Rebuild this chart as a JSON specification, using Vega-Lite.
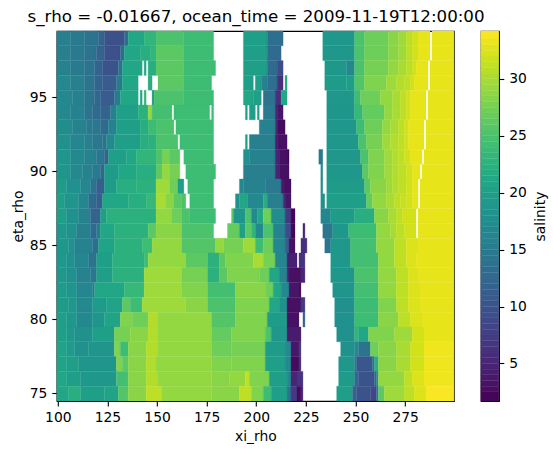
{"$schema":"https://vega.github.io/schema/vega-lite/v6.json","background":"white","padding":{"left":9.8,"top":8,"right":0,"bottom":0},"spacing":25,"title":{"text":"s_rho = -0.01667, ocean_time = 2009-11-19T12:00:00","anchor":"start","frame":"bounds","dx":17,"fontSize":16.67,"fontWeight":"normal","color":"black","font":"DejaVu Sans","offset":5},"config":{"font":"DejaVu Sans","view":{"stroke":"black","strokeWidth":1.1},"axis":{"grid":false,"domain":true,"domainColor":"black","domainWidth":1.1,"zindex":1,"tickColor":"black","tickWidth":1.1,"tickSize":5,"labelColor":"black","titleColor":"black","labelFontSize":13.9,"titleFontSize":13.9,"titleFontWeight":"normal","labelPadding":5,"labelFont":"DejaVu Sans","titleFont":"DejaVu Sans"}},"hconcat":[{"width":397,"height":370,"data":{"values":[
{"x":99.5,"x2":106.5,"eta":99,"s":15.5},{"x":106.5,"x2":113.5,"eta":99,"s":15},{"x":113.5,"x2":120.5,"eta":99,"s":14},{"x":120.5,"x2":123.5,"eta":99,"s":12},{"x":123.5,"x2":133.5,"eta":99,"s":9.5},{"x":133.5,"x2":135.5,"eta":99,"s":13},{"x":135.5,"x2":143.5,"eta":99,"s":21},{"x":143.5,"x2":149.5,"eta":99,"s":23},{"x":149.5,"x2":163.5,"eta":99,"s":25},{"x":163.5,"x2":178.5,"eta":99,"s":24},{"x":193.5,"x2":205.5,"eta":99,"s":20},{"x":205.5,"x2":213.5,"eta":99,"s":13.5},{"x":233.5,"x2":249.5,"eta":99,"s":19},{"x":249.5,"x2":254.5,"eta":99,"s":25},{"x":254.5,"x2":266.5,"eta":99,"s":27},{"x":266.5,"x2":271.5,"eta":99,"s":28.5},{"x":271.5,"x2":275.5,"eta":99,"s":29.5},{"x":275.5,"x2":278.5,"eta":99,"s":31},{"x":278.5,"x2":281.5,"eta":99,"s":32},{"x":281.5,"x2":287.5,"eta":99,"s":33},{"x":288.5,"x2":299.5,"eta":99,"s":33},
{"x":99.5,"x2":106.5,"eta":98,"s":15.5},{"x":106.5,"x2":113.5,"eta":98,"s":15},{"x":113.5,"x2":119.5,"eta":98,"s":14},{"x":119.5,"x2":123.5,"eta":98,"s":12},{"x":123.5,"x2":131.5,"eta":98,"s":9.5},{"x":131.5,"x2":133.5,"eta":98,"s":13},{"x":133.5,"x2":141.5,"eta":98,"s":21},{"x":141.5,"x2":146.5,"eta":98,"s":22},{"x":146.5,"x2":149.5,"eta":98,"s":23},{"x":149.5,"x2":163.5,"eta":98,"s":26},{"x":163.5,"x2":178.5,"eta":98,"s":24},{"x":193.5,"x2":205.5,"eta":98,"s":20},{"x":205.5,"x2":212.5,"eta":98,"s":13},{"x":233.5,"x2":249.5,"eta":98,"s":19},{"x":249.5,"x2":254.5,"eta":98,"s":25},{"x":254.5,"x2":266.5,"eta":98,"s":27},{"x":266.5,"x2":271.5,"eta":98,"s":28.5},{"x":271.5,"x2":275.5,"eta":98,"s":29.5},{"x":275.5,"x2":278.5,"eta":98,"s":31},{"x":278.5,"x2":281.5,"eta":98,"s":32},{"x":281.5,"x2":287.5,"eta":98,"s":33},{"x":288.5,"x2":299.5,"eta":98,"s":33},
{"x":99.5,"x2":106.5,"eta":97,"s":16},{"x":106.5,"x2":113.5,"eta":97,"s":15},{"x":113.5,"x2":118.5,"eta":97,"s":14},{"x":118.5,"x2":122.5,"eta":97,"s":12},{"x":122.5,"x2":130.5,"eta":97,"s":10},{"x":130.5,"x2":132.5,"eta":97,"s":14},{"x":132.5,"x2":142.5,"eta":97,"s":21},{"x":143.5,"x2":144.5,"eta":97,"s":21},{"x":145.5,"x2":149.5,"eta":97,"s":22},{"x":149.5,"x2":163.5,"eta":97,"s":26},{"x":163.5,"x2":179.5,"eta":97,"s":24},{"x":193.5,"x2":205.5,"eta":97,"s":20},{"x":205.5,"x2":210.5,"eta":97,"s":13},{"x":210.5,"x2":213.5,"eta":97,"s":9},{"x":234.5,"x2":245.5,"eta":97,"s":19},{"x":245.5,"x2":249.5,"eta":97,"s":17},{"x":249.5,"x2":254.5,"eta":97,"s":25},{"x":254.5,"x2":266.5,"eta":97,"s":27.5},{"x":266.5,"x2":271.5,"eta":97,"s":29},{"x":271.5,"x2":275.5,"eta":97,"s":30},{"x":275.5,"x2":278.5,"eta":97,"s":31},{"x":278.5,"x2":280.5,"eta":97,"s":32},{"x":280.5,"x2":286.5,"eta":97,"s":33},{"x":287.5,"x2":299.5,"eta":97,"s":33},
{"x":99.5,"x2":106.5,"eta":96,"s":17},{"x":106.5,"x2":113.5,"eta":96,"s":15.5},{"x":113.5,"x2":118.5,"eta":96,"s":14},{"x":118.5,"x2":122.5,"eta":96,"s":12},{"x":122.5,"x2":129.5,"eta":96,"s":11},{"x":129.5,"x2":132.5,"eta":96,"s":15},{"x":132.5,"x2":140.5,"eta":96,"s":21},{"x":145.5,"x2":147.5,"eta":96,"s":22},{"x":150.5,"x2":163.5,"eta":96,"s":26},{"x":163.5,"x2":177.5,"eta":96,"s":24},{"x":193.5,"x2":198.5,"eta":96,"s":20},{"x":199.5,"x2":202.5,"eta":96,"s":20},{"x":202.5,"x2":205.5,"eta":96,"s":16},{"x":205.5,"x2":210.5,"eta":96,"s":13.5},{"x":210.5,"x2":213.5,"eta":96,"s":6},{"x":214.5,"x2":215.5,"eta":96,"s":21},{"x":234.5,"x2":245.5,"eta":96,"s":19.5},{"x":245.5,"x2":249.5,"eta":96,"s":20},{"x":249.5,"x2":254.5,"eta":96,"s":25.5},{"x":254.5,"x2":265.5,"eta":96,"s":28},{"x":265.5,"x2":270.5,"eta":96,"s":29.5},{"x":270.5,"x2":274.5,"eta":96,"s":30.5},{"x":274.5,"x2":277.5,"eta":96,"s":31},{"x":277.5,"x2":279.5,"eta":96,"s":32},{"x":279.5,"x2":286.5,"eta":96,"s":33},{"x":287.5,"x2":299.5,"eta":96,"s":33},
{"x":99.5,"x2":107.5,"eta":95,"s":17},{"x":107.5,"x2":113.5,"eta":95,"s":15.5},{"x":113.5,"x2":118.5,"eta":95,"s":14},{"x":118.5,"x2":121.5,"eta":95,"s":12.5},{"x":121.5,"x2":128.5,"eta":95,"s":11},{"x":128.5,"x2":131.5,"eta":95,"s":15},{"x":131.5,"x2":140.5,"eta":95,"s":21},{"x":141.5,"x2":142.5,"eta":95,"s":21},{"x":143.5,"x2":144.5,"eta":95,"s":23},{"x":147.5,"x2":148.5,"eta":95,"s":19},{"x":148.5,"x2":163.5,"eta":95,"s":25},{"x":163.5,"x2":178.5,"eta":95,"s":24},{"x":193.5,"x2":198.5,"eta":95,"s":21},{"x":198.5,"x2":202.5,"eta":95,"s":20},{"x":203.5,"x2":209.5,"eta":95,"s":14},{"x":209.5,"x2":212.5,"eta":95,"s":6},{"x":212.5,"x2":215.5,"eta":95,"s":21},{"x":235.5,"x2":249.5,"eta":95,"s":19},{"x":249.5,"x2":252.5,"eta":95,"s":24},{"x":252.5,"x2":262.5,"eta":95,"s":27},{"x":262.5,"x2":268.5,"eta":95,"s":29},{"x":268.5,"x2":272.5,"eta":95,"s":30},{"x":272.5,"x2":275.5,"eta":95,"s":31},{"x":275.5,"x2":277.5,"eta":95,"s":32},{"x":277.5,"x2":285.5,"eta":95,"s":33},{"x":286.5,"x2":299.5,"eta":95,"s":33},
{"x":99.5,"x2":106.5,"eta":94,"s":17},{"x":106.5,"x2":113.5,"eta":94,"s":16},{"x":113.5,"x2":117.5,"eta":94,"s":14},{"x":117.5,"x2":121.5,"eta":94,"s":13},{"x":121.5,"x2":126.5,"eta":94,"s":12},{"x":126.5,"x2":129.5,"eta":94,"s":15.5},{"x":129.5,"x2":140.5,"eta":94,"s":20},{"x":140.5,"x2":145.5,"eta":94,"s":22.5},{"x":145.5,"x2":147.5,"eta":94,"s":29},{"x":147.5,"x2":157.5,"eta":94,"s":24.5},{"x":158.5,"x2":176.5,"eta":94,"s":24},{"x":177.5,"x2":178.5,"eta":94,"s":24},{"x":194.5,"x2":195.5,"eta":94,"s":20},{"x":196.5,"x2":199.5,"eta":94,"s":20},{"x":200.5,"x2":201.5,"eta":94,"s":20},{"x":203.5,"x2":209.5,"eta":94,"s":15},{"x":209.5,"x2":210.5,"eta":94,"s":5},{"x":210.5,"x2":213.5,"eta":94,"s":3.5},{"x":235.5,"x2":249.5,"eta":94,"s":18.5},{"x":249.5,"x2":253.5,"eta":94,"s":23.5},{"x":253.5,"x2":264.5,"eta":94,"s":26.5},{"x":264.5,"x2":268.5,"eta":94,"s":29},{"x":268.5,"x2":272.5,"eta":94,"s":30},{"x":272.5,"x2":275.5,"eta":94,"s":31},{"x":275.5,"x2":277.5,"eta":94,"s":32},{"x":277.5,"x2":285.5,"eta":94,"s":33},{"x":286.5,"x2":299.5,"eta":94,"s":33},
{"x":99.5,"x2":107.5,"eta":93,"s":17.5},{"x":107.5,"x2":114.5,"eta":93,"s":16},{"x":114.5,"x2":117.5,"eta":93,"s":15},{"x":117.5,"x2":121.5,"eta":93,"s":14.5},{"x":121.5,"x2":125.5,"eta":93,"s":13},{"x":125.5,"x2":129.5,"eta":93,"s":16},{"x":129.5,"x2":141.5,"eta":93,"s":20},{"x":141.5,"x2":145.5,"eta":93,"s":22},{"x":145.5,"x2":149.5,"eta":93,"s":24},{"x":149.5,"x2":158.5,"eta":93,"s":25},{"x":159.5,"x2":178.5,"eta":93,"s":24},{"x":201.5,"x2":209.5,"eta":93,"s":16},{"x":209.5,"x2":210.5,"eta":93,"s":6},{"x":210.5,"x2":214.5,"eta":93,"s":2.5},{"x":235.5,"x2":250.5,"eta":93,"s":19},{"x":250.5,"x2":254.5,"eta":93,"s":24},{"x":254.5,"x2":263.5,"eta":93,"s":27},{"x":263.5,"x2":267.5,"eta":93,"s":29},{"x":267.5,"x2":271.5,"eta":93,"s":30},{"x":271.5,"x2":274.5,"eta":93,"s":31},{"x":274.5,"x2":276.5,"eta":93,"s":32},{"x":276.5,"x2":284.5,"eta":93,"s":33},{"x":285.5,"x2":299.5,"eta":93,"s":33},
{"x":99.5,"x2":106.5,"eta":92,"s":18},{"x":106.5,"x2":113.5,"eta":92,"s":16.5},{"x":113.5,"x2":117.5,"eta":92,"s":15.5},{"x":117.5,"x2":122.5,"eta":92,"s":14.5},{"x":122.5,"x2":124.5,"eta":92,"s":14},{"x":124.5,"x2":128.5,"eta":92,"s":17},{"x":128.5,"x2":141.5,"eta":92,"s":20},{"x":141.5,"x2":145.5,"eta":92,"s":22},{"x":145.5,"x2":149.5,"eta":92,"s":22.5},{"x":149.5,"x2":160.5,"eta":92,"s":25},{"x":161.5,"x2":178.5,"eta":92,"s":24},{"x":194.5,"x2":195.5,"eta":92,"s":20},{"x":196.5,"x2":209.5,"eta":92,"s":15.5},{"x":209.5,"x2":210.5,"eta":92,"s":4},{"x":210.5,"x2":215.5,"eta":92,"s":3},{"x":235.5,"x2":251.5,"eta":92,"s":19},{"x":251.5,"x2":255.5,"eta":92,"s":25},{"x":255.5,"x2":263.5,"eta":92,"s":27.5},{"x":263.5,"x2":267.5,"eta":92,"s":29.5},{"x":267.5,"x2":271.5,"eta":92,"s":30.5},{"x":271.5,"x2":274.5,"eta":92,"s":31},{"x":274.5,"x2":276.5,"eta":92,"s":32},{"x":276.5,"x2":284.5,"eta":92,"s":33},{"x":285.5,"x2":299.5,"eta":92,"s":33},
{"x":99.5,"x2":106.5,"eta":91,"s":18.5},{"x":106.5,"x2":113.5,"eta":91,"s":17},{"x":113.5,"x2":119.5,"eta":91,"s":16},{"x":119.5,"x2":123.5,"eta":91,"s":14.5},{"x":123.5,"x2":125.5,"eta":91,"s":12},{"x":125.5,"x2":134.5,"eta":91,"s":20},{"x":134.5,"x2":139.5,"eta":91,"s":21},{"x":139.5,"x2":149.5,"eta":91,"s":23},{"x":149.5,"x2":152.5,"eta":91,"s":25},{"x":152.5,"x2":156.5,"eta":91,"s":27.5},{"x":156.5,"x2":161.5,"eta":91,"s":26},{"x":163.5,"x2":178.5,"eta":91,"s":24},{"x":193.5,"x2":196.5,"eta":91,"s":18},{"x":196.5,"x2":209.5,"eta":91,"s":16},{"x":209.5,"x2":211.5,"eta":91,"s":5},{"x":211.5,"x2":215.5,"eta":91,"s":3},{"x":215.5,"x2":216.5,"eta":91,"s":2},{"x":231.5,"x2":233.5,"eta":91,"s":15},{"x":235.5,"x2":252.5,"eta":91,"s":19},{"x":252.5,"x2":256.5,"eta":91,"s":25},{"x":256.5,"x2":264.5,"eta":91,"s":28},{"x":264.5,"x2":268.5,"eta":91,"s":29.5},{"x":268.5,"x2":271.5,"eta":91,"s":30.5},{"x":271.5,"x2":274.5,"eta":91,"s":31},{"x":274.5,"x2":277.5,"eta":91,"s":32},{"x":277.5,"x2":283.5,"eta":91,"s":33},{"x":284.5,"x2":299.5,"eta":91,"s":33},
{"x":99.5,"x2":106.5,"eta":90,"s":18.5},{"x":106.5,"x2":112.5,"eta":90,"s":17},{"x":112.5,"x2":117.5,"eta":90,"s":16},{"x":117.5,"x2":121.5,"eta":90,"s":15},{"x":121.5,"x2":123.5,"eta":90,"s":12.5},{"x":123.5,"x2":130.5,"eta":90,"s":19.5},{"x":130.5,"x2":139.5,"eta":90,"s":21},{"x":139.5,"x2":149.5,"eta":90,"s":22},{"x":149.5,"x2":152.5,"eta":90,"s":26},{"x":152.5,"x2":156.5,"eta":90,"s":29},{"x":156.5,"x2":161.5,"eta":90,"s":27.5},{"x":164.5,"x2":179.5,"eta":90,"s":24},{"x":193.5,"x2":209.5,"eta":90,"s":15.5},{"x":209.5,"x2":211.5,"eta":90,"s":5},{"x":211.5,"x2":216.5,"eta":90,"s":3},{"x":232.5,"x2":233.5,"eta":90,"s":17},{"x":235.5,"x2":253.5,"eta":90,"s":19},{"x":253.5,"x2":256.5,"eta":90,"s":26},{"x":256.5,"x2":264.5,"eta":90,"s":28},{"x":264.5,"x2":268.5,"eta":90,"s":29.5},{"x":268.5,"x2":271.5,"eta":90,"s":30.5},{"x":271.5,"x2":275.5,"eta":90,"s":31},{"x":275.5,"x2":278.5,"eta":90,"s":32},{"x":278.5,"x2":282.5,"eta":90,"s":33},{"x":283.5,"x2":299.5,"eta":90,"s":33},
{"x":99.5,"x2":104.5,"eta":89,"s":19.5},{"x":104.5,"x2":111.5,"eta":89,"s":18},{"x":111.5,"x2":116.5,"eta":89,"s":16.5},{"x":116.5,"x2":119.5,"eta":89,"s":14},{"x":119.5,"x2":123.5,"eta":89,"s":11.5},{"x":123.5,"x2":129.5,"eta":89,"s":19.5},{"x":129.5,"x2":139.5,"eta":89,"s":22},{"x":139.5,"x2":149.5,"eta":89,"s":22.5},{"x":149.5,"x2":156.5,"eta":89,"s":29.5},{"x":156.5,"x2":160.5,"eta":89,"s":27},{"x":160.5,"x2":163.5,"eta":89,"s":20},{"x":165.5,"x2":178.5,"eta":89,"s":24},{"x":191.5,"x2":193.5,"eta":89,"s":17},{"x":193.5,"x2":204.5,"eta":89,"s":16},{"x":204.5,"x2":212.5,"eta":89,"s":15},{"x":212.5,"x2":213.5,"eta":89,"s":4},{"x":213.5,"x2":217.5,"eta":89,"s":3},{"x":232.5,"x2":233.5,"eta":89,"s":17},{"x":235.5,"x2":254.5,"eta":89,"s":19.5},{"x":254.5,"x2":257.5,"eta":89,"s":26},{"x":257.5,"x2":265.5,"eta":89,"s":28.5},{"x":265.5,"x2":268.5,"eta":89,"s":29.5},{"x":268.5,"x2":271.5,"eta":89,"s":30.5},{"x":271.5,"x2":275.5,"eta":89,"s":31},{"x":275.5,"x2":278.5,"eta":89,"s":32},{"x":278.5,"x2":281.5,"eta":89,"s":33},{"x":282.5,"x2":299.5,"eta":89,"s":33},
{"x":99.5,"x2":103.5,"eta":88,"s":20},{"x":103.5,"x2":110.5,"eta":88,"s":18.5},{"x":110.5,"x2":115.5,"eta":88,"s":16.5},{"x":115.5,"x2":119.5,"eta":88,"s":13},{"x":119.5,"x2":122.5,"eta":88,"s":11.5},{"x":122.5,"x2":135.5,"eta":88,"s":21},{"x":135.5,"x2":144.5,"eta":88,"s":22},{"x":144.5,"x2":149.5,"eta":88,"s":23.5},{"x":149.5,"x2":154.5,"eta":88,"s":30},{"x":154.5,"x2":158.5,"eta":88,"s":28.5},{"x":158.5,"x2":162.5,"eta":88,"s":26},{"x":162.5,"x2":164.5,"eta":88,"s":25},{"x":166.5,"x2":178.5,"eta":88,"s":24},{"x":189.5,"x2":191.5,"eta":88,"s":18},{"x":191.5,"x2":195.5,"eta":88,"s":21},{"x":195.5,"x2":203.5,"eta":88,"s":17},{"x":203.5,"x2":205.5,"eta":88,"s":22},{"x":205.5,"x2":213.5,"eta":88,"s":15.5},{"x":213.5,"x2":214.5,"eta":88,"s":6},{"x":214.5,"x2":217.5,"eta":88,"s":3.5},{"x":232.5,"x2":234.5,"eta":88,"s":18},{"x":235.5,"x2":255.5,"eta":88,"s":20},{"x":255.5,"x2":258.5,"eta":88,"s":26.5},{"x":258.5,"x2":265.5,"eta":88,"s":29},{"x":265.5,"x2":269.5,"eta":88,"s":30},{"x":269.5,"x2":272.5,"eta":88,"s":31},{"x":272.5,"x2":275.5,"eta":88,"s":31.5},{"x":275.5,"x2":278.5,"eta":88,"s":32},{"x":278.5,"x2":281.5,"eta":88,"s":33},{"x":282.5,"x2":299.5,"eta":88,"s":33},
{"x":99.5,"x2":104.5,"eta":87,"s":20},{"x":104.5,"x2":110.5,"eta":87,"s":18},{"x":110.5,"x2":116.5,"eta":87,"s":16},{"x":116.5,"x2":121.5,"eta":87,"s":12},{"x":121.5,"x2":124.5,"eta":87,"s":20},{"x":124.5,"x2":149.5,"eta":87,"s":22.5},{"x":149.5,"x2":157.5,"eta":87,"s":29},{"x":157.5,"x2":162.5,"eta":87,"s":27},{"x":162.5,"x2":166.5,"eta":87,"s":25},{"x":166.5,"x2":179.5,"eta":87,"s":24},{"x":187.5,"x2":188.5,"eta":87,"s":26},{"x":188.5,"x2":194.5,"eta":87,"s":18.5},{"x":194.5,"x2":197.5,"eta":87,"s":25},{"x":197.5,"x2":200.5,"eta":87,"s":17},{"x":200.5,"x2":203.5,"eta":87,"s":21},{"x":203.5,"x2":207.5,"eta":87,"s":27},{"x":207.5,"x2":214.5,"eta":87,"s":17.5},{"x":214.5,"x2":217.5,"eta":87,"s":7},{"x":217.5,"x2":219.5,"eta":87,"s":2},{"x":232.5,"x2":237.5,"eta":87,"s":16.5},{"x":237.5,"x2":249.5,"eta":87,"s":19.5},{"x":249.5,"x2":259.5,"eta":87,"s":22},{"x":259.5,"x2":266.5,"eta":87,"s":28.5},{"x":266.5,"x2":270.5,"eta":87,"s":30},{"x":270.5,"x2":273.5,"eta":87,"s":31},{"x":273.5,"x2":280.5,"eta":87,"s":32},{"x":281.5,"x2":299.5,"eta":87,"s":33},
{"x":99.5,"x2":104.5,"eta":86,"s":19},{"x":104.5,"x2":109.5,"eta":86,"s":18},{"x":109.5,"x2":116.5,"eta":86,"s":15.5},{"x":116.5,"x2":119.5,"eta":86,"s":13},{"x":119.5,"x2":121.5,"eta":86,"s":15},{"x":121.5,"x2":128.5,"eta":86,"s":21},{"x":128.5,"x2":145.5,"eta":86,"s":22.5},{"x":145.5,"x2":149.5,"eta":86,"s":26},{"x":149.5,"x2":162.5,"eta":86,"s":28.5},{"x":162.5,"x2":178.5,"eta":86,"s":25},{"x":185.5,"x2":191.5,"eta":86,"s":26.5},{"x":191.5,"x2":194.5,"eta":86,"s":20},{"x":194.5,"x2":197.5,"eta":86,"s":26},{"x":197.5,"x2":199.5,"eta":86,"s":23},{"x":199.5,"x2":203.5,"eta":86,"s":17},{"x":203.5,"x2":208.5,"eta":86,"s":25},{"x":208.5,"x2":214.5,"eta":86,"s":16},{"x":214.5,"x2":217.5,"eta":86,"s":9},{"x":217.5,"x2":219.5,"eta":86,"s":2},{"x":223.5,"x2":224.5,"eta":86,"s":5},{"x":233.5,"x2":238.5,"eta":86,"s":14.5},{"x":238.5,"x2":246.5,"eta":86,"s":19},{"x":246.5,"x2":260.5,"eta":86,"s":24},{"x":260.5,"x2":267.5,"eta":86,"s":29},{"x":267.5,"x2":270.5,"eta":86,"s":30},{"x":270.5,"x2":274.5,"eta":86,"s":31},{"x":274.5,"x2":280.5,"eta":86,"s":32},{"x":281.5,"x2":299.5,"eta":86,"s":33},
{"x":99.5,"x2":105.5,"eta":85,"s":19},{"x":105.5,"x2":108.5,"eta":85,"s":18},{"x":108.5,"x2":117.5,"eta":85,"s":16},{"x":117.5,"x2":120.5,"eta":85,"s":13.5},{"x":120.5,"x2":128.5,"eta":85,"s":20.5},{"x":128.5,"x2":142.5,"eta":85,"s":22.5},{"x":142.5,"x2":147.5,"eta":85,"s":24},{"x":147.5,"x2":162.5,"eta":85,"s":29},{"x":162.5,"x2":179.5,"eta":85,"s":25.5},{"x":179.5,"x2":183.5,"eta":85,"s":29},{"x":183.5,"x2":193.5,"eta":85,"s":27.5},{"x":193.5,"x2":199.5,"eta":85,"s":29.5},{"x":199.5,"x2":203.5,"eta":85,"s":24},{"x":203.5,"x2":208.5,"eta":85,"s":27},{"x":208.5,"x2":214.5,"eta":85,"s":16.5},{"x":214.5,"x2":216.5,"eta":85,"s":11},{"x":216.5,"x2":219.5,"eta":85,"s":3},{"x":222.5,"x2":225.5,"eta":85,"s":6},{"x":234.5,"x2":237.5,"eta":85,"s":14},{"x":237.5,"x2":247.5,"eta":85,"s":19},{"x":247.5,"x2":260.5,"eta":85,"s":24.5},{"x":260.5,"x2":269.5,"eta":85,"s":29},{"x":269.5,"x2":275.5,"eta":85,"s":31},{"x":275.5,"x2":281.5,"eta":85,"s":32.5},{"x":281.5,"x2":299.5,"eta":85,"s":33},
{"x":99.5,"x2":104.5,"eta":84,"s":19},{"x":104.5,"x2":108.5,"eta":84,"s":18},{"x":108.5,"x2":115.5,"eta":84,"s":16.5},{"x":115.5,"x2":119.5,"eta":84,"s":14},{"x":119.5,"x2":127.5,"eta":84,"s":20},{"x":127.5,"x2":143.5,"eta":84,"s":22.5},{"x":143.5,"x2":145.5,"eta":84,"s":24},{"x":145.5,"x2":164.5,"eta":84,"s":29},{"x":164.5,"x2":175.5,"eta":84,"s":26},{"x":175.5,"x2":181.5,"eta":84,"s":22.5},{"x":181.5,"x2":184.5,"eta":84,"s":26},{"x":184.5,"x2":198.5,"eta":84,"s":28},{"x":198.5,"x2":203.5,"eta":84,"s":30},{"x":203.5,"x2":209.5,"eta":84,"s":27.5},{"x":209.5,"x2":215.5,"eta":84,"s":16.5},{"x":215.5,"x2":220.5,"eta":84,"s":4.5},{"x":221.5,"x2":224.5,"eta":84,"s":6.5},{"x":237.5,"x2":247.5,"eta":84,"s":19},{"x":247.5,"x2":261.5,"eta":84,"s":24.5},{"x":261.5,"x2":269.5,"eta":84,"s":29},{"x":269.5,"x2":275.5,"eta":84,"s":31},{"x":275.5,"x2":280.5,"eta":84,"s":32.5},{"x":280.5,"x2":299.5,"eta":84,"s":33},
{"x":99.5,"x2":104.5,"eta":83,"s":19},{"x":104.5,"x2":109.5,"eta":83,"s":18},{"x":109.5,"x2":116.5,"eta":83,"s":16},{"x":116.5,"x2":119.5,"eta":83,"s":14.5},{"x":119.5,"x2":127.5,"eta":83,"s":20},{"x":127.5,"x2":143.5,"eta":83,"s":22.5},{"x":143.5,"x2":162.5,"eta":83,"s":29.5},{"x":162.5,"x2":175.5,"eta":83,"s":27.5},{"x":175.5,"x2":181.5,"eta":83,"s":22.5},{"x":181.5,"x2":185.5,"eta":83,"s":26},{"x":185.5,"x2":201.5,"eta":83,"s":28},{"x":201.5,"x2":206.5,"eta":83,"s":27},{"x":206.5,"x2":211.5,"eta":83,"s":21},{"x":211.5,"x2":215.5,"eta":83,"s":16},{"x":215.5,"x2":216.5,"eta":83,"s":5},{"x":216.5,"x2":222.5,"eta":83,"s":3},{"x":222.5,"x2":224.5,"eta":83,"s":5},{"x":237.5,"x2":249.5,"eta":83,"s":19},{"x":249.5,"x2":261.5,"eta":83,"s":25},{"x":261.5,"x2":270.5,"eta":83,"s":29},{"x":270.5,"x2":276.5,"eta":83,"s":31},{"x":276.5,"x2":281.5,"eta":83,"s":32.5},{"x":281.5,"x2":299.5,"eta":83,"s":33},
{"x":99.5,"x2":104.5,"eta":82,"s":19.5},{"x":104.5,"x2":109.5,"eta":82,"s":18.5},{"x":109.5,"x2":117.5,"eta":82,"s":16.5},{"x":117.5,"x2":118.5,"eta":82,"s":15},{"x":118.5,"x2":133.5,"eta":82,"s":21},{"x":133.5,"x2":143.5,"eta":82,"s":23.5},{"x":143.5,"x2":162.5,"eta":82,"s":29.5},{"x":162.5,"x2":175.5,"eta":82,"s":28},{"x":175.5,"x2":189.5,"eta":82,"s":24.5},{"x":189.5,"x2":204.5,"eta":82,"s":28.5},{"x":204.5,"x2":208.5,"eta":82,"s":27},{"x":208.5,"x2":212.5,"eta":82,"s":21},{"x":212.5,"x2":216.5,"eta":82,"s":17},{"x":216.5,"x2":221.5,"eta":82,"s":3.5},{"x":221.5,"x2":222.5,"eta":82,"s":2.5},{"x":238.5,"x2":249.5,"eta":82,"s":18.5},{"x":249.5,"x2":261.5,"eta":82,"s":24.5},{"x":261.5,"x2":270.5,"eta":82,"s":29},{"x":270.5,"x2":276.5,"eta":82,"s":31},{"x":276.5,"x2":282.5,"eta":82,"s":32.5},{"x":282.5,"x2":299.5,"eta":82,"s":33},
{"x":99.5,"x2":105.5,"eta":81,"s":19.5},{"x":105.5,"x2":109.5,"eta":81,"s":19},{"x":109.5,"x2":117.5,"eta":81,"s":17},{"x":117.5,"x2":124.5,"eta":81,"s":19.5},{"x":124.5,"x2":132.5,"eta":81,"s":20.5},{"x":132.5,"x2":136.5,"eta":81,"s":26},{"x":136.5,"x2":142.5,"eta":81,"s":24},{"x":142.5,"x2":164.5,"eta":81,"s":29.5},{"x":164.5,"x2":175.5,"eta":81,"s":28.5},{"x":175.5,"x2":189.5,"eta":81,"s":25},{"x":189.5,"x2":206.5,"eta":81,"s":28},{"x":206.5,"x2":211.5,"eta":81,"s":21},{"x":211.5,"x2":215.5,"eta":81,"s":18},{"x":215.5,"x2":222.5,"eta":81,"s":3},{"x":222.5,"x2":224.5,"eta":81,"s":7},{"x":239.5,"x2":249.5,"eta":81,"s":18},{"x":249.5,"x2":261.5,"eta":81,"s":24},{"x":261.5,"x2":270.5,"eta":81,"s":28},{"x":270.5,"x2":276.5,"eta":81,"s":31},{"x":276.5,"x2":282.5,"eta":81,"s":32.5},{"x":282.5,"x2":299.5,"eta":81,"s":33},
{"x":99.5,"x2":104.5,"eta":80,"s":20},{"x":104.5,"x2":109.5,"eta":80,"s":19},{"x":109.5,"x2":117.5,"eta":80,"s":17},{"x":117.5,"x2":123.5,"eta":80,"s":18.5},{"x":123.5,"x2":131.5,"eta":80,"s":20.5},{"x":131.5,"x2":137.5,"eta":80,"s":28},{"x":137.5,"x2":145.5,"eta":80,"s":27},{"x":145.5,"x2":150.5,"eta":80,"s":30.5},{"x":150.5,"x2":177.5,"eta":80,"s":29},{"x":177.5,"x2":189.5,"eta":80,"s":25.5},{"x":189.5,"x2":205.5,"eta":80,"s":28},{"x":205.5,"x2":215.5,"eta":80,"s":19.5},{"x":215.5,"x2":221.5,"eta":80,"s":3},{"x":223.5,"x2":224.5,"eta":80,"s":12},{"x":239.5,"x2":249.5,"eta":80,"s":18},{"x":249.5,"x2":261.5,"eta":80,"s":24},{"x":261.5,"x2":271.5,"eta":80,"s":28.5},{"x":271.5,"x2":277.5,"eta":80,"s":31},{"x":277.5,"x2":283.5,"eta":80,"s":32.5},{"x":283.5,"x2":299.5,"eta":80,"s":33},
{"x":99.5,"x2":104.5,"eta":79,"s":20},{"x":104.5,"x2":108.5,"eta":79,"s":19},{"x":108.5,"x2":117.5,"eta":79,"s":18},{"x":117.5,"x2":128.5,"eta":79,"s":20},{"x":128.5,"x2":136.5,"eta":79,"s":27.5},{"x":136.5,"x2":145.5,"eta":79,"s":28.5},{"x":145.5,"x2":150.5,"eta":79,"s":30.5},{"x":150.5,"x2":177.5,"eta":79,"s":29},{"x":177.5,"x2":187.5,"eta":79,"s":26.5},{"x":187.5,"x2":204.5,"eta":79,"s":28},{"x":204.5,"x2":207.5,"eta":79,"s":25},{"x":207.5,"x2":215.5,"eta":79,"s":19},{"x":215.5,"x2":222.5,"eta":79,"s":4},{"x":240.5,"x2":249.5,"eta":79,"s":18},{"x":249.5,"x2":251.5,"eta":79,"s":23},{"x":251.5,"x2":256.5,"eta":79,"s":21},{"x":256.5,"x2":269.5,"eta":79,"s":28},{"x":269.5,"x2":278.5,"eta":79,"s":29.5},{"x":278.5,"x2":284.5,"eta":79,"s":32},{"x":284.5,"x2":299.5,"eta":79,"s":33},
{"x":99.5,"x2":104.5,"eta":78,"s":20.5},{"x":104.5,"x2":108.5,"eta":78,"s":19.5},{"x":108.5,"x2":115.5,"eta":78,"s":18},{"x":115.5,"x2":128.5,"eta":78,"s":18.5},{"x":128.5,"x2":131.5,"eta":78,"s":28},{"x":131.5,"x2":135.5,"eta":78,"s":24},{"x":135.5,"x2":144.5,"eta":78,"s":28.5},{"x":144.5,"x2":150.5,"eta":78,"s":30.5},{"x":150.5,"x2":177.5,"eta":78,"s":29},{"x":177.5,"x2":187.5,"eta":78,"s":27},{"x":187.5,"x2":204.5,"eta":78,"s":27.5},{"x":204.5,"x2":214.5,"eta":78,"s":19.5},{"x":214.5,"x2":217.5,"eta":78,"s":17},{"x":217.5,"x2":221.5,"eta":78,"s":3.5},{"x":221.5,"x2":222.5,"eta":78,"s":7},{"x":242.5,"x2":249.5,"eta":78,"s":18},{"x":249.5,"x2":251.5,"eta":78,"s":17},{"x":251.5,"x2":257.5,"eta":78,"s":14},{"x":257.5,"x2":261.5,"eta":78,"s":27},{"x":261.5,"x2":270.5,"eta":78,"s":28.5},{"x":270.5,"x2":277.5,"eta":78,"s":30},{"x":277.5,"x2":284.5,"eta":78,"s":32},{"x":284.5,"x2":299.5,"eta":78,"s":33.5},
{"x":99.5,"x2":104.5,"eta":77,"s":20.5},{"x":104.5,"x2":110.5,"eta":77,"s":20},{"x":110.5,"x2":129.5,"eta":77,"s":18.5},{"x":129.5,"x2":132.5,"eta":77,"s":28},{"x":132.5,"x2":135.5,"eta":77,"s":26},{"x":135.5,"x2":144.5,"eta":77,"s":28.5},{"x":144.5,"x2":149.5,"eta":77,"s":30.5},{"x":149.5,"x2":177.5,"eta":77,"s":29},{"x":177.5,"x2":187.5,"eta":77,"s":28},{"x":187.5,"x2":204.5,"eta":77,"s":28},{"x":204.5,"x2":214.5,"eta":77,"s":20},{"x":214.5,"x2":217.5,"eta":77,"s":17},{"x":217.5,"x2":221.5,"eta":77,"s":2.5},{"x":221.5,"x2":222.5,"eta":77,"s":6},{"x":241.5,"x2":249.5,"eta":77,"s":19},{"x":249.5,"x2":250.5,"eta":77,"s":15},{"x":250.5,"x2":258.5,"eta":77,"s":10.5},{"x":258.5,"x2":259.5,"eta":77,"s":14},{"x":259.5,"x2":261.5,"eta":77,"s":22},{"x":261.5,"x2":270.5,"eta":77,"s":28.5},{"x":270.5,"x2":277.5,"eta":77,"s":30},{"x":277.5,"x2":284.5,"eta":77,"s":32},{"x":284.5,"x2":299.5,"eta":77,"s":33.5},
{"x":99.5,"x2":104.5,"eta":76,"s":21},{"x":104.5,"x2":111.5,"eta":76,"s":20},{"x":111.5,"x2":129.5,"eta":76,"s":19},{"x":129.5,"x2":135.5,"eta":76,"s":24.5},{"x":135.5,"x2":144.5,"eta":76,"s":28.5},{"x":144.5,"x2":150.5,"eta":76,"s":30.5},{"x":150.5,"x2":177.5,"eta":76,"s":29},{"x":177.5,"x2":186.5,"eta":76,"s":28.5},{"x":186.5,"x2":194.5,"eta":76,"s":29},{"x":194.5,"x2":196.5,"eta":76,"s":31},{"x":196.5,"x2":206.5,"eta":76,"s":28},{"x":206.5,"x2":215.5,"eta":76,"s":20},{"x":215.5,"x2":217.5,"eta":76,"s":17},{"x":217.5,"x2":220.5,"eta":76,"s":5},{"x":220.5,"x2":223.5,"eta":76,"s":6.5},{"x":241.5,"x2":249.5,"eta":76,"s":19.5},{"x":249.5,"x2":251.5,"eta":76,"s":13},{"x":251.5,"x2":259.5,"eta":76,"s":10},{"x":259.5,"x2":260.5,"eta":76,"s":13},{"x":260.5,"x2":261.5,"eta":76,"s":17},{"x":261.5,"x2":274.5,"eta":76,"s":29},{"x":274.5,"x2":278.5,"eta":76,"s":31},{"x":278.5,"x2":284.5,"eta":76,"s":32.5},{"x":284.5,"x2":299.5,"eta":76,"s":33.5},
{"x":99.5,"x2":105.5,"eta":75,"s":21},{"x":105.5,"x2":111.5,"eta":75,"s":22},{"x":111.5,"x2":123.5,"eta":75,"s":20},{"x":123.5,"x2":130.5,"eta":75,"s":20.5},{"x":130.5,"x2":135.5,"eta":75,"s":25.5},{"x":135.5,"x2":144.5,"eta":75,"s":28.5},{"x":144.5,"x2":152.5,"eta":75,"s":31},{"x":152.5,"x2":177.5,"eta":75,"s":29},{"x":177.5,"x2":191.5,"eta":75,"s":28.5},{"x":191.5,"x2":197.5,"eta":75,"s":31},{"x":197.5,"x2":203.5,"eta":75,"s":28},{"x":203.5,"x2":207.5,"eta":75,"s":24},{"x":207.5,"x2":215.5,"eta":75,"s":20},{"x":215.5,"x2":217.5,"eta":75,"s":14},{"x":217.5,"x2":220.5,"eta":75,"s":7},{"x":220.5,"x2":222.5,"eta":75,"s":2.5},{"x":222.5,"x2":223.5,"eta":75,"s":5},{"x":240.5,"x2":248.5,"eta":75,"s":20},{"x":248.5,"x2":250.5,"eta":75,"s":12},{"x":250.5,"x2":257.5,"eta":75,"s":10},{"x":257.5,"x2":260.5,"eta":75,"s":8.5},{"x":260.5,"x2":261.5,"eta":75,"s":14},{"x":261.5,"x2":264.5,"eta":75,"s":26},{"x":264.5,"x2":274.5,"eta":75,"s":29.5},{"x":274.5,"x2":279.5,"eta":75,"s":31},{"x":279.5,"x2":285.5,"eta":75,"s":32.5},{"x":285.5,"x2":299.5,"eta":75,"s":34}
]},"mark":{"type":"rect","strokeWidth":0.3},"encoding":{"x":{"field":"x","type":"quantitative","title":"xi_rho","scale":{"domain":[99.5,299.5],"nice":false,"zero":false},"axis":{"values":[100,125,150,175,200,225,250,275],"labelFlush":false,"titlePadding":5}},"x2":{"field":"x2"},"y":{"field":"eta","type":"ordinal","title":"eta_rho","sort":"descending","scale":{"domain":[99,98,97,96,95,94,93,92,91,90,89,88,87,86,85,84,83,82,81,80,79,78,77,76,75],"paddingInner":0,"paddingOuter":0},"axis":{"values":[75,80,85,90,95],"labelAngle":0}},"color":{"field":"s","type":"quantitative","legend":null,"scale":{"scheme":"viridis","domain":[1.7,34.2]}},"stroke":{"field":"s","type":"quantitative","legend":null,"scale":{"scheme":"viridis","domain":[1.7,34.2]}}}},{"width":18,"height":370,"data":{"values":[{"s":1.7,"s2":2.5,"c":2.1},{"s":2.5,"s2":3,"c":2.75},{"s":3,"s2":3.5,"c":3.25},{"s":3.5,"s2":4,"c":3.75},{"s":4,"s2":4.5,"c":4.25},{"s":4.5,"s2":5,"c":4.75},{"s":5,"s2":5.5,"c":5.25},{"s":5.5,"s2":6,"c":5.75},{"s":6,"s2":6.5,"c":6.25},{"s":6.5,"s2":7,"c":6.75},{"s":7,"s2":7.5,"c":7.25},{"s":7.5,"s2":8,"c":7.75},{"s":8,"s2":8.5,"c":8.25},{"s":8.5,"s2":9,"c":8.75},{"s":9,"s2":9.5,"c":9.25},{"s":9.5,"s2":10,"c":9.75},{"s":10,"s2":10.5,"c":10.25},{"s":10.5,"s2":11,"c":10.75},{"s":11,"s2":11.5,"c":11.25},{"s":11.5,"s2":12,"c":11.75},{"s":12,"s2":12.5,"c":12.25},{"s":12.5,"s2":13,"c":12.75},{"s":13,"s2":13.5,"c":13.25},{"s":13.5,"s2":14,"c":13.75},{"s":14,"s2":14.5,"c":14.25},{"s":14.5,"s2":15,"c":14.75},{"s":15,"s2":15.5,"c":15.25},{"s":15.5,"s2":16,"c":15.75},{"s":16,"s2":16.5,"c":16.25},{"s":16.5,"s2":17,"c":16.75},{"s":17,"s2":17.5,"c":17.25},{"s":17.5,"s2":18,"c":17.75},{"s":18,"s2":18.5,"c":18.25},{"s":18.5,"s2":19,"c":18.75},{"s":19,"s2":19.5,"c":19.25},{"s":19.5,"s2":20,"c":19.75},{"s":20,"s2":20.5,"c":20.25},{"s":20.5,"s2":21,"c":20.75},{"s":21,"s2":21.5,"c":21.25},{"s":21.5,"s2":22,"c":21.75},{"s":22,"s2":22.5,"c":22.25},{"s":22.5,"s2":23,"c":22.75},{"s":23,"s2":23.5,"c":23.25},{"s":23.5,"s2":24,"c":23.75},{"s":24,"s2":24.5,"c":24.25},{"s":24.5,"s2":25,"c":24.75},{"s":25,"s2":25.5,"c":25.25},{"s":25.5,"s2":26,"c":25.75},{"s":26,"s2":26.5,"c":26.25},{"s":26.5,"s2":27,"c":26.75},{"s":27,"s2":27.5,"c":27.25},{"s":27.5,"s2":28,"c":27.75},{"s":28,"s2":28.5,"c":28.25},{"s":28.5,"s2":29,"c":28.75},{"s":29,"s2":29.5,"c":29.25},{"s":29.5,"s2":30,"c":29.75},{"s":30,"s2":30.5,"c":30.25},{"s":30.5,"s2":31,"c":30.75},{"s":31,"s2":31.5,"c":31.25},{"s":31.5,"s2":32,"c":31.75},{"s":32,"s2":32.5,"c":32.25},{"s":32.5,"s2":33,"c":32.75},{"s":33,"s2":33.5,"c":33.25},{"s":33.5,"s2":34.2,"c":33.85}]},"mark":{"type":"rect","strokeWidth":0.3},"encoding":{"y":{"field":"s","type":"quantitative","title":"salinity","scale":{"domain":[1.7,34.2],"nice":false,"zero":false},"axis":{"orient":"right","values":[5,10,15,20,25,30],"titlePadding":21,"titleAngle":270}},"y2":{"field":"s2"},"color":{"field":"c","type":"quantitative","legend":null,"scale":{"scheme":"viridis","domain":[1.7,34.2]}},"stroke":{"field":"c","type":"quantitative","legend":null,"scale":{"scheme":"viridis","domain":[1.7,34.2]}}}}]}
